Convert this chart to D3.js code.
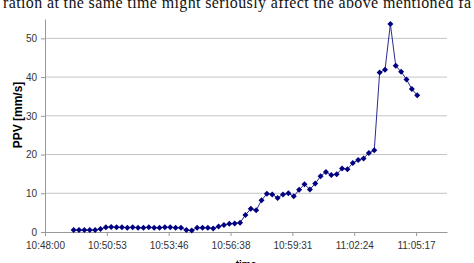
<!DOCTYPE html>
<html lang="en">
<head>
<meta charset="utf-8">
<title>PPV</title>
<style>
  body { margin: 0; background: #fff; }
  svg { display: block; }
  .tick text { font-family: Arial, "Liberation Sans", sans-serif; font-size: 10px; fill: #333; }
</style>
</head>
<body>
<svg id="chart" width="474" height="263"></svg>
<script src="https://d3js.org/d3.v7.min.js"></script>
<script>
// measurement times (hh:mm:ss) and peak particle velocity [mm/s]
var times = [
  '10:49:20','10:49:35','10:49:50',
  '10:50:05','10:50:20','10:50:35','10:50:50',
  '10:51:05','10:51:20','10:51:35','10:51:50',
  '10:52:05','10:52:20','10:52:35','10:52:50',
  '10:53:05','10:53:20','10:53:35','10:53:50',
  '10:54:05','10:54:20','10:54:35','10:54:50',
  '10:55:05','10:55:20','10:55:35','10:55:50',
  '10:56:05','10:56:20','10:56:35','10:56:50',
  '10:57:05','10:57:20','10:57:35','10:57:50',
  '10:58:05','10:58:20','10:58:35','10:58:50',
  '10:59:05','10:59:20','10:59:35','10:59:50',
  '11:00:05','11:00:20','11:00:35','11:00:50',
  '11:01:05','11:01:20','11:01:35','11:01:50',
  '11:02:05','11:02:20','11:02:35','11:02:50',
  '11:03:05','11:03:20','11:03:35','11:03:50',
  '11:04:05','11:04:20','11:04:35','11:04:50',
  '11:05:05','11:05:20'
];
var ppv = [
  0.5, 0.5, 0.5, 0.5, 0.5, 0.8, 1.2, 1.3,
  1.2, 1.2, 1.1, 1.2, 1.1, 1.1, 1.2, 1.1, 1.1, 1.2, 1.2, 1.1, 1.1,
  0.5, 0.4, 1.1, 1.1, 1.1, 0.9,
  1.4, 1.8, 2.1, 2.2, 2.4, 4.4, 6.0, 5.6, 8.2, 9.9, 9.7, 8.8, 9.7, 10.0, 9.2,
  10.9, 12.3, 11.0, 12.5, 14.4, 15.5, 14.7, 14.9, 16.4, 16.2, 17.8, 18.6, 19.0,
  20.4, 21.1, 41.2, 41.9, 53.7, 42.9, 41.4, 39.4, 36.9, 35.3
];
var xTickLabels = ['10:48:00', '10:50:53', '10:53:46', '10:56:38', '10:59:31', '11:02:24', '11:05:17'];
var yTicks = [0, 10, 20, 30, 40, 50];

function secs(t) {
  var p = t.split(':').map(Number);
  return p[0] * 3600 + p[1] * 60 + p[2];
}

var svg = d3.select('#chart'),
    margin = {top: 19, right: 27, bottom: 31, left: 45},
    w = +svg.attr('width') - margin.left - margin.right,
    h = +svg.attr('height') - margin.top - margin.bottom;

// cut-off line of body text above the figure
svg.append('text')
  .attr('x', 3).attr('y', 8)
  .attr('font-family', '"Liberation Serif", "Times New Roman", serif')
  .attr('font-size', 16)
  .attr('fill', '#111')
  .attr('textLength', 468)
  .text('ration at the same time might seriously affect the above mentioned fa');

var g = svg.append('g').attr('transform', 'translate(' + margin.left + ',' + margin.top + ')');

// Excel style time axis: major unit 0.002 day (172.8 s)
var t0 = secs('10:48:00'), step = 172.8;
var x = d3.scaleLinear().domain([t0, t0 + 6.5 * step]).range([0, w]);
var y = d3.scaleLinear().domain([0, 55]).range([h, 0]);

// gridlines
g.append('g')
  .selectAll('line')
  .data(yTicks.slice(1))
  .enter().append('line')
  .attr('x1', 0).attr('x2', w)
  .attr('y1', function(d) { return y(d); })
  .attr('y2', function(d) { return y(d); })
  .attr('stroke', '#c4c4c4').attr('stroke-width', 1);

var xAxis = d3.axisBottom(x)
  .tickValues(xTickLabels.map(function(d, i) { return t0 + i * step; }))
  .tickFormat(function(d, i) { return xTickLabels[i]; })
  .tickSize(4).tickSizeOuter(0).tickPadding(6);

g.append('g')
  .attr('transform', 'translate(0,' + h + ')')
  .call(xAxis)
  .call(function(s) { s.selectAll('line, path').attr('stroke', '#999'); });

g.append('g')
  .call(d3.axisLeft(y).tickValues(yTicks).tickSize(4).tickSizeOuter(0).tickPadding(4))
  .call(function(s) { s.selectAll('line, path').attr('stroke', '#999'); });

// series
var pts = times.map(function(t, i) { return [secs(t), ppv[i]]; });

g.append('path')
  .datum(pts)
  .attr('fill', 'none')
  .attr('stroke', '#2b2b90')
  .attr('stroke-width', 1)
  .attr('d', d3.line()
    .x(function(d) { return x(d[0]); })
    .y(function(d) { return y(d[1]); }));

g.append('g')
  .selectAll('path')
  .data(pts)
  .enter().append('path')
  .attr('d', d3.symbol(d3.symbolSquare, 18))
  .attr('transform', function(d) { return 'translate(' + x(d[0]) + ',' + y(d[1]) + ') rotate(45)'; })
  .attr('fill', '#000080');

// axis titles
svg.append('text')
  .attr('transform', 'translate(22,115) rotate(-90)')
  .attr('text-anchor', 'middle')
  .attr('font-family', 'Arial, "Liberation Sans", sans-serif')
  .attr('font-size', 12).attr('font-weight', 'bold')
  .text('PPV [mm/s]');

svg.append('text')
  .attr('x', margin.left + w / 2).attr('y', 268)
  .attr('text-anchor', 'middle')
  .attr('font-family', 'Arial, "Liberation Sans", sans-serif')
  .attr('font-size', 10).attr('font-weight', 'bold')
  .text('time');
</script>
</body>
</html>
